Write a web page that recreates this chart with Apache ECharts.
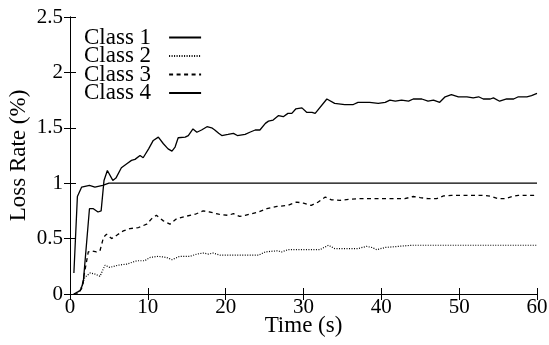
<!DOCTYPE html>
<html><head><meta charset="utf-8">
<script src="https://cdn.jsdelivr.net/npm/echarts@6/dist/echarts.min.js"></script>
<style>html,body{margin:0;padding:0;background:#fff}#c{width:549px;height:345px}</style>
</head><body><div id="c"></div>
<script>
const names = ['Class 1','Class 2','Class 3','Class 4'];
const xTicks = [0,10,20,30,40,50,60];
const yTicks = [0,0.5,1,1.5,2,2.5];

const t1 = [0.5,0.95,1.5,2.5,3.2,4.2,5,10,20,30,40,50,60];
const v1 = [0.19,0.88,0.965,0.98,0.965,0.98,1.0,1.0,1.0,1.0,1.0,1.0,1.0];

const t2 = [0.5,1.3,1.9,2.6,3.2,3.85,4.5,5.1,6.2,7.3,8.6,9.6,10.3,11.35,12.4,13.1,14.1,15.4,16.3,17.1,17.8,18.4,19.3,20.3,24.2,25.1,26.6,27.2,28,32.1,33.2,34,37,38.1,38.8,39.4,40.5,42.2,43.9,60];
const v2 = [0,0.03,0.15,0.19,0.18,0.16,0.26,0.24,0.26,0.27,0.30,0.30,0.33,0.34,0.33,0.31,0.34,0.34,0.36,0.37,0.36,0.37,0.35,0.35,0.35,0.38,0.39,0.38,0.40,0.40,0.44,0.41,0.41,0.43,0.42,0.40,0.42,0.43,0.44,0.44];

const t3 = [0.5,1.0,1.5,2.35,2.8,3.4,3.85,4.3,4.7,5.35,6,6.85,7.7,8.8,9.85,10.5,11.1,12,12.85,13.7,14.8,16.1,17.1,18,19.1,20.3,21,21.8,22.5,24.2,25.3,26.6,28,29.1,30,31,31.9,32.8,33.6,34.7,35.8,37,43,44.1,45,46,47.1,48,49,53.3,54.2,55,55.9,56.8,57.6,60];
const v3 = [0,0,0.05,0.38,0.39,0.38,0.39,0.51,0.54,0.50,0.53,0.57,0.59,0.60,0.63,0.68,0.71,0.66,0.63,0.68,0.70,0.72,0.75,0.74,0.72,0.71,0.725,0.70,0.71,0.74,0.77,0.79,0.80,0.83,0.82,0.80,0.83,0.875,0.85,0.845,0.855,0.86,0.86,0.88,0.87,0.86,0.86,0.885,0.89,0.89,0.88,0.86,0.86,0.88,0.89,0.89];

const t4 = [0.5,1.3,1.7,2.5,3.0,3.6,4.0,4.37,4.8,5.5,5.9,6.6,7.3,7.9,8.35,9.0,9.4,10.1,10.7,11.35,12.0,12.6,13.1,13.5,13.9,14.8,15.2,15.8,16.3,16.9,17.6,18.2,18.6,19.1,19.5,20.3,21.0,21.5,22.5,23.1,23.8,24.4,25.1,25.5,26.1,26.8,27.4,28.0,28.5,29.0,29.8,30.4,31.1,31.5,33.0,34.0,35.3,36.4,37.0,38.5,39.6,40.5,41.1,41.8,42.6,43.5,44.1,45.2,46.0,46.7,47.5,48.2,49.0,49.9,51.0,51.8,52.5,53.1,54.0,54.4,55.2,56.1,57.0,57.6,58.7,59.3,60];
const v4 = [0,0.03,0.1,0.77,0.77,0.74,0.75,1.025,1.115,1.025,1.046,1.14,1.176,1.206,1.215,1.25,1.23,1.31,1.386,1.416,1.356,1.31,1.29,1.326,1.41,1.416,1.43,1.49,1.46,1.48,1.51,1.50,1.48,1.45,1.43,1.44,1.45,1.43,1.44,1.46,1.48,1.48,1.54,1.56,1.57,1.61,1.60,1.63,1.63,1.67,1.68,1.64,1.64,1.63,1.76,1.72,1.71,1.71,1.73,1.73,1.72,1.73,1.75,1.74,1.75,1.74,1.76,1.76,1.74,1.75,1.73,1.78,1.80,1.78,1.78,1.77,1.78,1.76,1.76,1.77,1.74,1.76,1.76,1.78,1.78,1.79,1.81];

const times = [t1,t2,t3,t4];
const vals = [v1,v2,v3,v4];
const dashes = ['solid',[1,1.5],[4,3.5],'solid'];
const FONT = 'Liberation Serif';

const chart = echarts.init(document.getElementById('c'), null, {renderer:'canvas'});
const axisCommon = {
  axisLine:{show:true,lineStyle:{color:'#000',width:1}},
  axisTick:{show:true,inside:true,length:6,lineStyle:{color:'#000'}},
  splitLine:{show:false}
};
chart.setOption({
  animation:false,
  backgroundColor:'#fff',
  grid:{left:70,right:12,top:17,bottom:51,containLabel:false,outerBoundsMode:'none'},
  legend:{
    show:true, orient:'vertical', left:84, top:26, align:'right',
    itemWidth:32, itemHeight:10, itemGap:-4.5, padding:0,
    data:names.map(n=>({name:n,itemStyle:{opacity:0}})),
    textStyle:{fontFamily:FONT,fontSize:23,color:'#000',padding:[0,13,0,0]},
    inactiveColor:'#000'
  },
  xAxis:[
    Object.assign({type:'value',min:0,max:60,interval:10,position:'bottom',
      axisLabel:{fontFamily:FONT,fontSize:21,color:'#000',margin:3},
      name:'Time (s)',nameLocation:'middle',nameGap:20,nameMoveOverlap:false,
      nameTextStyle:{fontFamily:FONT,fontSize:23,color:'#000'}},axisCommon),
    Object.assign({type:'value',min:0,max:60,interval:10,position:'top',axisLabel:{show:false}},axisCommon)
  ],
  yAxis:[
    Object.assign({type:'value',min:0,max:2.5,interval:0.5,position:'left',
      axisLabel:{fontFamily:FONT,fontSize:21,color:'#000',margin:7},
      name:'Loss Rate (%)',nameLocation:'middle',nameGap:40,nameMoveOverlap:false,
      nameTextStyle:{fontFamily:FONT,fontSize:23,color:'#000'}},axisCommon),
    Object.assign({type:'value',min:0,max:2.5,interval:0.5,position:'right',axisLabel:{show:false}},axisCommon)
  ],
  series: names.map((n,i)=>({
    name:n, type:'line', xAxisIndex:0, yAxisIndex:0,
    showSymbol:false, symbol:'none', smooth:false,
    lineStyle:{color:'#000',width:i===1?1.2:1.3,type:dashes[i]},
    itemStyle:{color:'#000'},
    data: times[i].map((t,k)=>[t, vals[i][k]])
  }))
});
</script></body></html>
